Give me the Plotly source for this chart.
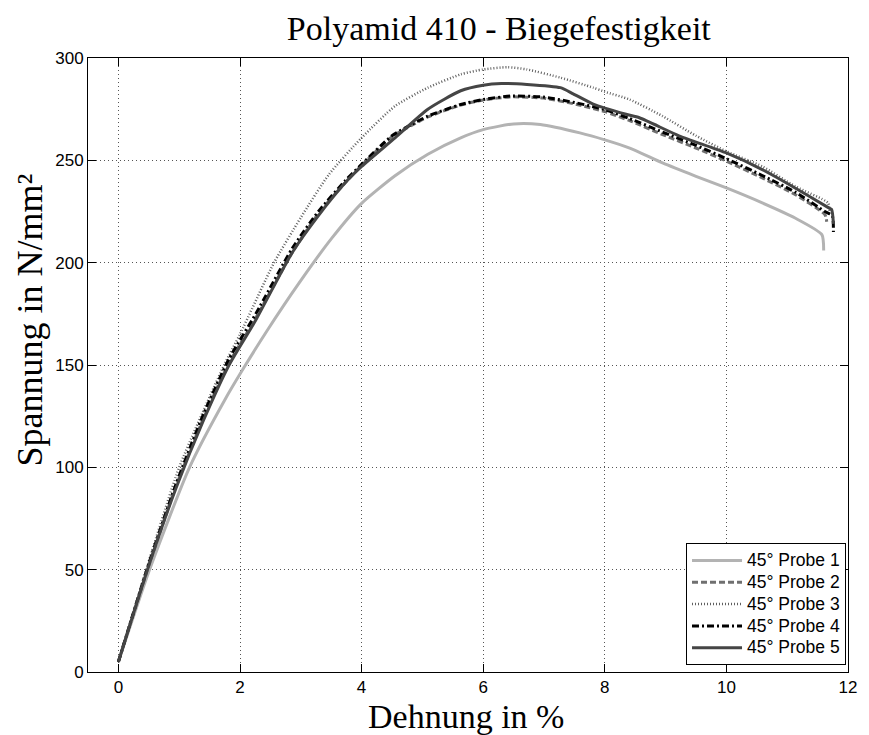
import plotly.graph_objects as go

# Biegeversuch Polyamid 410, 45°-Proben: Dehnung (%) und Spannung (N/mm²)
probe1_x = [0, 0.5, 1.17, 1.77, 2.07, 2.45, 2.97, 3.51, 4.0, 4.55, 5.09, 5.63, 6.0, 6.5,
            6.94, 7.59, 8.0, 8.41, 8.95, 9.5, 10.0, 10.59, 11.13, 11.57, 11.6]
probe1_y = [5, 49, 100, 134, 149, 167, 190, 212, 229, 242.5, 253, 261, 265, 267.8,
            267.5, 263.4, 260, 256, 248.7, 242.2, 236.5, 229.2, 221.8, 213.7, 206]

probe2_x = [0, 0.5, 0.95, 1.4, 1.82, 2.26, 2.86, 3.29, 3.73, 4.0, 4.5, 4.82, 5.09, 5.63,
            6.0, 6.45, 6.99, 7.54, 8.0, 8.4, 8.95, 9.5, 10.0, 10.59, 11.13, 11.62, 11.65]
probe2_y = [5, 52, 91, 124, 151, 173, 205, 224, 239, 247.5, 261.5, 267, 271.2, 277,
            279.5, 281, 280.4, 277.3, 273.8, 269.5, 262.6, 256, 249.6, 241.4, 233.3, 223.5, 220]

probe3_x = [0, 0.5, 1.0, 1.74, 2.0, 2.56, 3.0, 3.46, 4.0, 4.55, 5.09, 5.63, 6.0, 6.4,
            6.72, 7.27, 7.81, 8.0, 8.41, 8.95, 9.5, 10.0, 10.59, 11.13, 11.67, 11.7]
probe3_y = [5, 54, 100, 150, 165, 200, 222, 243, 261, 276.5, 285.5, 292, 294.4, 295.5,
            294.4, 290.4, 285.5, 283.5, 279.7, 271.6, 262, 254.4, 247, 237.3, 229.2, 225]

probe4_x = [0, 0.5, 0.95, 1.4, 1.82, 2.26, 2.86, 3.29, 3.73, 4.0, 4.5, 4.82, 5.09, 5.63,
            6.0, 6.45, 6.99, 7.54, 8.0, 8.4, 8.95, 9.5, 10.0, 10.59, 11.13, 11.62, 11.74, 11.76]
probe4_y = [5, 53, 92, 126, 153, 175, 207, 225, 240, 248, 262, 267.5, 271.6, 277.3,
            279.7, 281.4, 280.9, 278, 274.8, 270.5, 263.8, 257.3, 250.8, 242.6, 234.5, 225, 223, 215]

probe5_x = [0, 0.5, 0.95, 1.4, 1.82, 2.26, 2.86, 3.29, 3.73, 4.0, 4.55, 5.09, 5.63, 6.0,
            6.3, 6.72, 7.27, 7.48, 7.81, 8.35, 8.57, 9.22, 10.0, 10.59, 11.13, 11.67, 11.73, 11.76]
probe5_y = [5, 52, 90, 123, 150, 172, 205, 223, 239, 247, 261, 275, 284, 286.7,
            287.5, 287.1, 285.5, 282.5, 277.5, 272.5, 270.8, 262, 253.6, 245.5, 236.5, 227, 226, 219]

names = ["45° Probe 1", "45° Probe 2", "45° Probe 3", "45° Probe 4", "45° Probe 5"]
xs = [probe1_x, probe2_x, probe3_x, probe4_x, probe5_x]
ys = [probe1_y, probe2_y, probe3_y, probe4_y, probe5_y]
colors = ["#b3b3b3", "#707070", "#606060", "#000000", "#454545"]
widths = [3, 3, 2.5, 3, 3]
dashes = ["solid", "6px,3px", "1px,2px", "7px,3px,2px,3px", "solid"]

fig = go.Figure()
for x, y, n, c, w, d in zip(xs, ys, names, colors, widths, dashes):
    fig.add_trace(go.Scatter(
        x=x, y=y, mode="lines",
        # legend rows stay compact while the label text is drawn larger
        name=f'<span style="font-size:17.5px">{n}</span>',
        line=dict(color=c, width=w, dash=d, shape="spline", smoothing=0.6),
    ))

serif = "Liberation Serif, Times New Roman, serif"
sans = "Liberation Sans, Arial, sans-serif"

axis_common = dict(
    showline=True, linecolor="black", linewidth=1, mirror="ticks",
    ticks="inside", ticklen=8, tickcolor="black", tickwidth=1,
    showgrid=True, gridcolor="#555555", griddash="1px,3px", gridwidth=1,
    zeroline=False, tickfont=dict(family=sans, size=17, color="black"),
)

fig.update_layout(
    width=869, height=735,
    margin=dict(l=88, r=17, t=58, b=63),
    paper_bgcolor="white", plot_bgcolor="white",
    title=dict(text="Polyamid 410 - Biegefestigkeit", x=0.574, xanchor="center",
               y=0.962, yanchor="middle",
               font=dict(family=serif, size=34, color="black")),
    xaxis=dict(range=[-0.5, 12], tickvals=[0, 2, 4, 6, 8, 10, 12], **axis_common),
    yaxis=dict(range=[0, 300], tickvals=[0, 50, 100, 150, 200, 250, 300], **axis_common),
    legend=dict(x=0.9974, xanchor="right", y=0.0106, yanchor="bottom",
                bgcolor="white", bordercolor="black", borderwidth=1,
                font=dict(family=sans, size=14.5, color="black"),
                tracegroupgap=0, itemwidth=50),
    showlegend=True,
    annotations=[
        dict(text="Dehnung in %", xref="paper", yref="paper", x=0.497, y=-0.072,
             xanchor="center", yanchor="middle", showarrow=False,
             font=dict(family=serif, size=34, color="black")),
        dict(text="Spannung in N/mm²", xref="paper", yref="paper", x=-0.076, y=0.573,
             xanchor="center", yanchor="middle", textangle=-90, showarrow=False,
             font=dict(family=serif, size=36, color="black")),
    ],
)

fig.write_html("out.html")
